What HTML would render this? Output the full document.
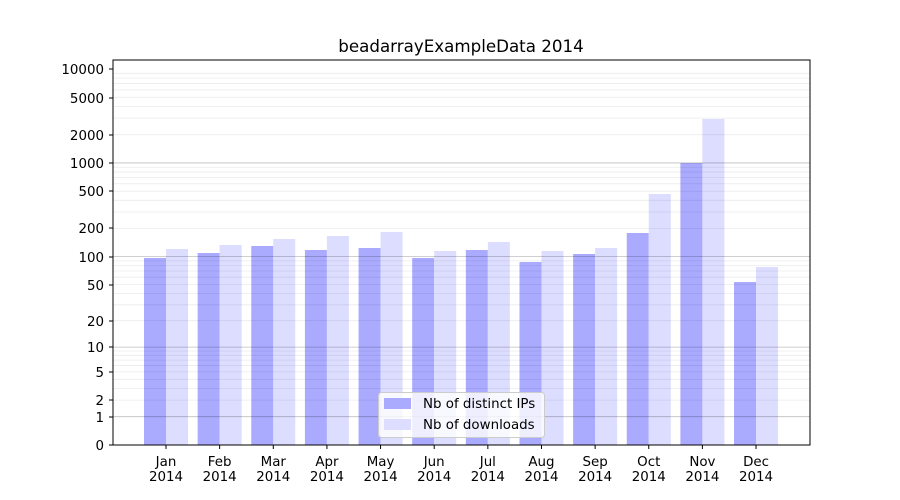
<!DOCTYPE html>
<html><head><meta charset="utf-8"><style>body{margin:0;background:#fff}svg{display:block;font-family:"DejaVu Sans","Liberation Sans",sans-serif}</style></head>
<body>
<svg id="s" width="900" height="500" xmlns="http://www.w3.org/2000/svg"></svg>
<script>
const s=document.getElementById('s');let h='';
const Y=v=>445-94*Math.log10(1+v);
const tops=[[258,249],[253,245],[246,239],[250,236],[248,232],[258,251],[250,242],[262,251],[254,248],[233,194],[163,119],[282,267]];
const mons=['Jan','Feb','Mar','Apr','May','Jun','Jul','Aug','Sep','Oct','Nov','Dec'];
tops.forEach((t,i)=>{const c=166+i*53.64;
h+=`<rect x="${c-22}" y="${t[0]}" width="22" height="${445-t[0]}" fill="#aaaaff"/>`;
h+=`<rect x="${c}" y="${t[1]}" width="22" height="${445-t[1]}" fill="#ddddff"/>`;
h+=`<line x1="${c}" x2="${c}" y1="445" y2="449" stroke="#000"/>`;
h+=`<text x="${c}" y="466" font-size="13.4" text-anchor="middle">${mons[i]}</text><text x="${c}" y="481" font-size="13.4" text-anchor="middle">2014</text>`;});
for(let k=0;k<4;k++)for(let m=2;m<10;m++){const y=Y(m*Math.pow(10,k));h+=`<line x1="113" x2="810" y1="${y}" y2="${y}" stroke="#000" stroke-opacity="0.08" stroke-width="0.8"/>`;}
[1,10,100,1000].forEach(v=>{const y=Y(v);h+=`<line x1="113" x2="810" y1="${y}" y2="${y}" stroke="#000" stroke-opacity="0.25" stroke-width="0.8"/>`;});
[[0,445],[1,417],[2,400],[5,372],[10,347],[20,321],[50,285],[100,257],[200,228],[500,191],[1000,163],[2000,135],[5000,98],[10000,69]].forEach(([v,y])=>{
h+=`<line x1="109" x2="113" y1="${y}" y2="${y}" stroke="#000"/><text x="104" y="${y+5}" font-size="13.4" text-anchor="end">${v}</text>`;});
h+=`<rect x="113" y="60" width="697" height="385" fill="none" stroke="#000" stroke-width="1"/>`;
h+=`<text x="461" y="52" font-size="16.7" text-anchor="middle">beadarrayExampleData 2014</text>`;
h+=`<rect x="378.5" y="392.5" width="166" height="45" rx="3" fill="#fff" fill-opacity="0.8" stroke="#ccc"/>`;
h+=`<rect x="384" y="398" width="27" height="11" fill="#aaaaff"/><rect x="384" y="419" width="27" height="11" fill="#ddddff"/>`;
h+=`<text x="423" y="408" font-size="13.4">Nb of distinct IPs</text><text x="423" y="429" font-size="13.4">Nb of downloads</text>`;
s.innerHTML=h;
</script>
</body></html>
